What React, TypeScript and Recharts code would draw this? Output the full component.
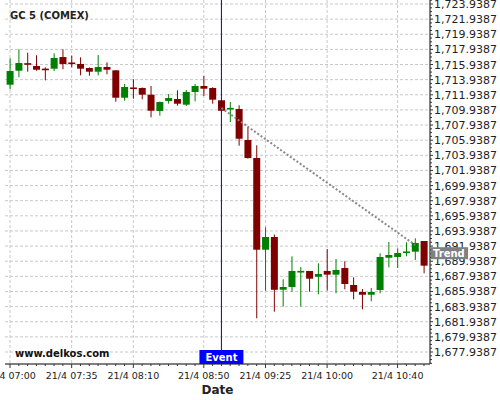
import React from "react";
import {
  ComposedChart,
  Bar,
  XAxis,
  YAxis,
  CartesianGrid,
  ReferenceLine,
  ReferenceDot,
} from "recharts";

// 5-minute candles, 21/4
const times = [
  "07:00", "07:05", "07:10", "07:15", "07:20", "07:25", "07:30", "07:35",
  "07:40", "07:45", "07:50", "07:55", "08:00", "08:05", "08:10", "08:15",
  "08:20", "08:25", "08:30", "08:35", "08:40", "08:45", "08:50", "08:55",
  "09:00", "09:05", "09:10", "09:15", "09:20", "09:25", "09:30", "09:35",
  "09:40", "09:45", "09:50", "09:55", "10:00", "10:05", "10:10", "10:15",
  "10:20", "10:25", "10:30", "10:35", "10:40", "10:45", "10:50", "10:55",
];
const opens = [
  1713.27, 1715.12, 1716.05, 1715.74, 1715.33, 1715.39, 1716.93, 1716.14,
  1716.01, 1715.48, 1714.99, 1715.61, 1715.17, 1711.55, 1712.84, 1712.84,
  1711.95, 1709.8, 1711.12, 1711.38, 1710.63, 1712.31, 1713.1, 1712.84,
  1711.21, 1710.06, 1710.06, 1705.96, 1703.58, 1691.46, 1693.14, 1686.17,
  1686.53, 1688.51, 1688.65, 1687.89, 1688.65, 1688.16, 1689.04, 1686.8,
  1685.87, 1685.51, 1686.13, 1690.4, 1690.5, 1691.08, 1691.2, 1692.61,
];
const highs = [
  1716.76, 1717.95, 1717.5, 1717.16, 1715.57, 1717.42, 1717.95, 1717.1,
  1716.89, 1715.55, 1717.2, 1716.23, 1715.21, 1713.36, 1713.99, 1712.9,
  1713.1, 1711.05, 1712.04, 1712.53, 1712.57, 1713.36, 1714.42, 1712.93,
  1711.25, 1710.98, 1710.55, 1707.68, 1705.26, 1694.42, 1693.47, 1687.55,
  1690.59, 1689.17, 1688.65, 1689.66, 1691.55, 1690.23, 1689.93, 1687.81,
  1686.27, 1686.4, 1690.99, 1692.48, 1691.65, 1692.44, 1692.97, 1692.61,
];
const lows = [
  1712.66, 1714.25, 1714.99, 1715.12, 1713.85, 1715.08, 1715.31, 1715.57,
  1714.51, 1714.46, 1714.51, 1714.65, 1711.02, 1711.16, 1711.42, 1711.34,
  1708.96, 1709.17, 1710.76, 1710.5, 1710.46, 1711.08, 1711.78, 1710.76,
  1709.57, 1708.34, 1705.21, 1703.49, 1682.39, 1686.04, 1683.27, 1683.95,
  1685.91, 1683.95, 1685.91, 1685.57, 1686.07, 1685.7, 1686.23, 1684.9,
  1683.58, 1684.64, 1685.7, 1689.13, 1689.04, 1690.59, 1690.1, 1688.34,
];
const closes = [
  1715.08, 1716.14, 1715.97, 1715.25, 1715.25, 1716.8, 1716.01, 1716.06,
  1715.39, 1714.99, 1715.61, 1715.25, 1711.55, 1712.97, 1712.76, 1711.95,
  1709.83, 1710.98, 1711.51, 1710.76, 1712.31, 1713.1, 1712.74, 1711.29,
  1709.83, 1710.14, 1706.13, 1703.58, 1691.46, 1693.14, 1686.16, 1686.53,
  1688.65, 1688.59, 1687.63, 1688.25, 1688.16, 1688.78, 1686.93, 1685.91,
  1685.51, 1685.87, 1690.5, 1690.76, 1691.02, 1691.16, 1692.35, 1689.35,
];

// axis ticks (minutes after 07:00 / price)
const xMajor = [0, 35, 70, 110, 145, 180, 220];
const yMajor = [
  1677.9387, 1679.9387, 1681.9387, 1683.9387, 1685.9387, 1687.9387,
  1689.9387, 1691.9387, 1693.9387, 1695.9387, 1697.9387, 1699.9387,
  1701.9387, 1703.9387, 1705.9387, 1707.9387, 1709.9387, 1711.9387,
  1713.9387, 1715.9387, 1717.9387, 1719.9387, 1721.9387, 1723.9387,
];

const EVENT_AT = "09:00";
const trendFrom = { time: "09:00", value: 1710.19 };
const trendTo = { time: "10:50", value: 1692.08 };
const trendTagValue = 1691.0;

const X_MIN = -2.84;
const X_MAX = 238.4;
const Y_MIN = 1676.3525;
const Y_MAX = 1724.4674;

const FONT = "DejaVu Sans";
const UP = "#008000";
const DOWN = "#800000";

const toMin = (s: string) => {
  const [h, m] = s.split(":").map(Number);
  return (h - 7) * 60 + m;
};

const rows = times.map((time, i) => ({
  t: toMin(time),
  open: opens[i],
  high: highs[i],
  low: lows[i],
  close: closes[i],
}));

// minor ticks every 5 minutes / every 0.5 in price
const xTicks = times.map(toMin);
const yTicks: number[] = [];
for (let i = -3; i <= 48 * 4 + 1; i++) {
  const v = yMajor[0] + i * 0.5;
  if (v >= Y_MIN && v <= Y_MAX) yTicks.push(v);
}

const fmtTime = (t: number) => {
  const h = 7 + Math.floor(t / 60);
  const m = t % 60;
  return `21/4 ${String(h).padStart(2, "0")}:${String(m).padStart(2, "0")}`;
};

const fmtPrice = (v: number) =>
  v.toLocaleString("en-US", { minimumFractionDigits: 4, maximumFractionDigits: 4 });

const isMajorY = (v: number) => {
  const k = (v - yMajor[0]) / 2;
  return Math.abs(k - Math.round(k)) < 1e-6;
};

function Candle(props: any) {
  const { x, y, width, height, payload } = props;
  if (x == null || y == null) return null;
  const top = Math.min(y, y + height);
  const span = Math.abs(height);
  const { open, close, high, low } = payload;
  const k = span / (high - low || 1);
  const py = (v: number) => top + (high - v) * k;
  const color = close >= open ? UP : DOWN;
  const cx = x + width / 2;
  let bTop = py(Math.max(open, close));
  let bH = Math.abs(py(open) - py(close));
  if (bH < 1.6) {
    bTop -= (1.6 - bH) / 2;
    bH = 1.6;
  }
  return (
    <g>
      <line x1={cx} x2={cx} y1={top} y2={top + span} stroke={color} strokeWidth={1} />
      <rect x={x} y={bTop} width={width} height={bH} fill={color} />
    </g>
  );
}

function XTick(props: any) {
  const { x, y, payload } = props;
  const major = xMajor.includes(payload.value);
  return (
    <g>
      <line x1={x} x2={x} y1={y} y2={y + (major ? 4 : 2)} stroke="#333" />
      {major && (
        <text x={x} y={y + 15} textAnchor="middle" fontFamily={FONT} fontSize={9.5} fill="#222">
          {fmtTime(payload.value)}
        </text>
      )}
    </g>
  );
}

function YTick(props: any) {
  const { x, y, payload } = props;
  const major = isMajorY(payload.value);
  return (
    <g>
      <line x1={x} x2={x + (major ? 3 : 2)} y1={y} y2={y} stroke="#333" />
      {major && (
        <text x={x + 4} y={y + 4} textAnchor="start" fontFamily={FONT} fontSize={11} fill="#222">
          {fmtPrice(payload.value)}
        </text>
      )}
    </g>
  );
}

function EventTag(props: any) {
  const { cx, cy } = props;
  return (
    <g>
      <rect x={cx - 22} y={cy - 14} width={44} height={14} fill="#0000ff" />
      <text x={cx} y={cy - 3.5} textAnchor="middle" fontFamily={FONT} fontWeight="bold" fontSize={10} fill="#fff">
        Event
      </text>
    </g>
  );
}

function TrendTag(props: any) {
  const { cx, cy } = props;
  return (
    <g>
      <rect x={cx + 1} y={cy - 6} width={37} height={12} fill="#808080" />
      <text x={cx + 3} y={cy + 3.5} fontFamily={FONT} fontWeight="bold" fontSize={10} fill="#fff">
        Trend
      </text>
    </g>
  );
}

const MARGIN = { top: 0, right: 0, bottom: 0, left: 5 };
const Y_AXIS_W = 70;
const X_AXIS_H = 36;

export default function App() {
  return (
    <div style={{ position: "relative", width: 500, height: 400, background: "#fff" }}>
      <style>{"body{margin:0}"}</style>
      <ComposedChart width={500} height={400} data={rows} margin={MARGIN}>
        <CartesianGrid
          stroke="#c8c8c8"
          strokeDasharray="3 2"
          verticalValues={xMajor}
          horizontalValues={yMajor}
        />
        <XAxis
          dataKey="t"
          type="number"
          domain={[X_MIN, X_MAX]}
          allowDataOverflow
          ticks={xTicks}
          interval={0}
          tickLine={false}
          tickSize={0}
          tickMargin={0}
          tick={(p: any) => <XTick {...p} />}
          axisLine={{ stroke: "#000" }}
          height={X_AXIS_H}
        />
        <YAxis
          orientation="right"
          type="number"
          domain={[Y_MIN, Y_MAX]}
          allowDataOverflow
          ticks={yTicks}
          interval={0}
          tickLine={false}
          tickSize={0}
          tickMargin={0}
          tick={(p: any) => <YTick {...p} />}
          axisLine={{ stroke: "#000" }}
          width={Y_AXIS_W}
        />
        <Bar
          dataKey={(d: any) => [d.low, d.high]}
          barSize={7}
          shape={(p: any) => <Candle {...p} />}
          isAnimationActive={false}
        />
        <ReferenceLine x={toMin(EVENT_AT)} stroke="#0000cc" strokeWidth={1} />
        <ReferenceLine
          segment={[
            { x: toMin(trendFrom.time), y: trendFrom.value },
            { x: toMin(trendTo.time), y: trendTo.value },
          ]}
          stroke="#888888"
          strokeWidth={2}
          strokeDasharray="2 2"
        />
        <ReferenceDot
          x={toMin(EVENT_AT)}
          y={Y_MIN}
          ifOverflow="visible"
          shape={(p: any) => <EventTag {...p} />}
        />
      </ComposedChart>

      {/* tag layer on top of the axis labels, same scales with hidden axes */}
      <div style={{ position: "absolute", left: 0, top: 0, pointerEvents: "none" }}>
        <ComposedChart
          width={500}
          height={400}
          data={rows}
          margin={{
            top: MARGIN.top,
            right: MARGIN.right + Y_AXIS_W,
            bottom: MARGIN.bottom + X_AXIS_H,
            left: MARGIN.left,
          }}
        >
          <XAxis dataKey="t" type="number" domain={[X_MIN, X_MAX]} allowDataOverflow hide />
          <YAxis type="number" domain={[Y_MIN, Y_MAX]} allowDataOverflow hide />
          <ReferenceDot
            x={X_MAX}
            y={trendTagValue}
            ifOverflow="visible"
            shape={(p: any) => <TrendTag {...p} />}
          />
        </ComposedChart>
      </div>

      <svg
        width={500}
        height={400}
        style={{ position: "absolute", left: 0, top: 0, pointerEvents: "none" }}
      >
        <text x={10} y={18.5} fontFamily={FONT} fontWeight="bold" fontSize={10} fill="#222">
          GC 5 (COMEX)
        </text>
        <text x={15} y={357} fontFamily={FONT} fontWeight="bold" fontSize={10} fill="#111">
          www.delkos.com
        </text>
        <text x={217.5} y={393.5} textAnchor="middle" fontFamily={FONT} fontWeight="bold" fontSize={12} fill="#222">
          Date
        </text>
      </svg>
    </div>
  );
}
